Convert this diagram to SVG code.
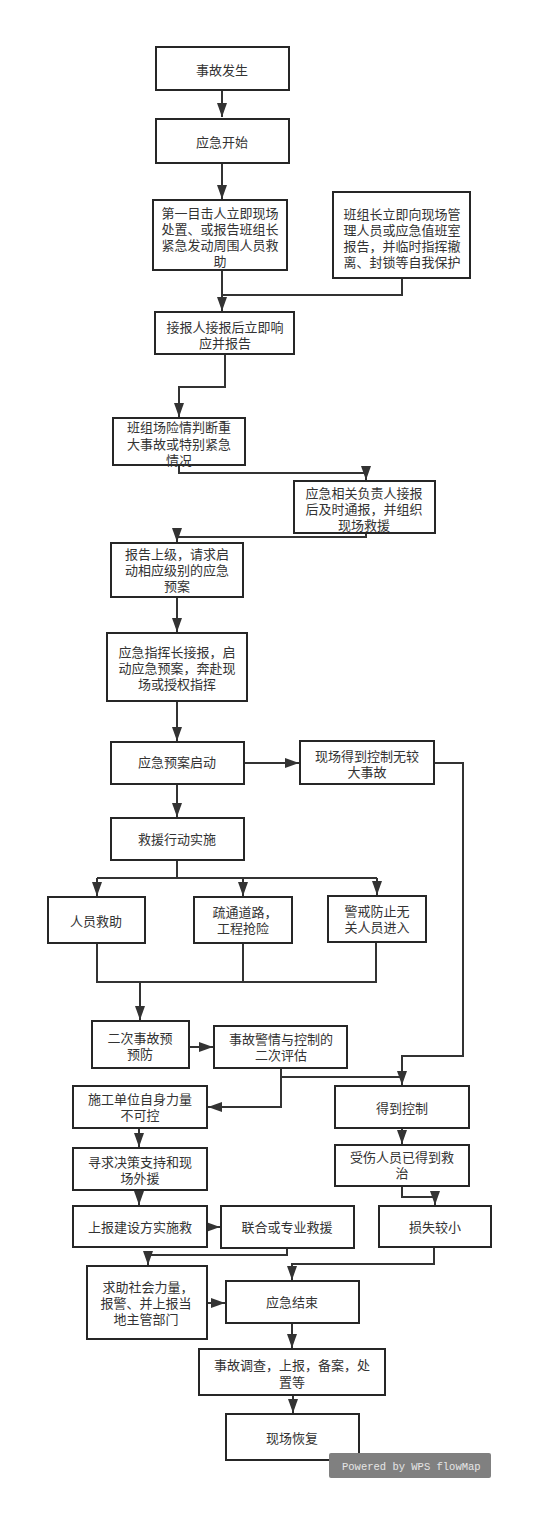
<svg xmlns="http://www.w3.org/2000/svg" width="552" height="1522" viewBox="0 0 552 1522">
<style>
.b{fill:#fff;stroke:#262626;stroke-width:2}
.t{font-family:"Noto Sans CJK SC","Noto Sans",sans-serif;font-size:13px;fill:#333;text-anchor:middle}
.c{fill:none;stroke:#333;stroke-width:2}
</style>
<defs>
<marker id="a" viewBox="0 0 14 10" markerWidth="14" markerHeight="10" refX="14" refY="5" orient="auto" markerUnits="userSpaceOnUse"><path d="M0,0 L14,5 L0,10 z" fill="#333"/></marker>
</defs>
<rect width="552" height="1522" fill="#fff"/>
<g id="connectors">
<path class="c" d="M222,90 V117" marker-end="url(#a)"/>
<path class="c" d="M222,163 V199" marker-end="url(#a)"/>
<path class="c" d="M222,270 V311" marker-end="url(#a)"/>
<path class="c" d="M402,278 V295 H222"/>
<path class="c" d="M225,354 V387 H179 V417" marker-end="url(#a)"/>
<path class="c" d="M179,465 V473 H366 V480" marker-end="url(#a)"/>
<path class="c" d="M366,533 V537 H177 V542" marker-end="url(#a)"/>
<path class="c" d="M177,597 V632" marker-end="url(#a)"/>
<path class="c" d="M177,701 V741" marker-end="url(#a)"/>
<path class="c" d="M244,763 H299" marker-end="url(#a)"/>
<path class="c" d="M434,763 H463 V1056 H402 V1085" marker-end="url(#a)"/>
<path class="c" d="M177,784 V817" marker-end="url(#a)"/>
<path class="c" d="M177,860 V878"/>
<path class="c" d="M97,878 H377"/>
<path class="c" d="M97,878 V896" marker-end="url(#a)"/>
<path class="c" d="M243,878 V896" marker-end="url(#a)"/>
<path class="c" d="M377,878 V895" marker-end="url(#a)"/>
<path class="c" d="M97,943 V982 H376 V942"/>
<path class="c" d="M243,943 V982"/>
<path class="c" d="M140,982 V1020" marker-end="url(#a)"/>
<path class="c" d="M189,1047 H213" marker-end="url(#a)"/>
<path class="c" d="M281,1068 V1107 H208" marker-end="url(#a)"/>
<path class="c" d="M281,1077 H402"/>
<path class="c" d="M139,1128 V1147" marker-end="url(#a)"/>
<path class="c" d="M139,1190 V1205" marker-end="url(#a)"/>
<path class="c" d="M206,1227 H220" marker-end="url(#a)"/>
<path class="c" d="M402,1128 V1144" marker-end="url(#a)"/>
<path class="c" d="M402,1186 V1197 H435 V1205" marker-end="url(#a)"/>
<path class="c" d="M287,1248 V1255 H148 V1265" marker-end="url(#a)"/>
<path class="c" d="M434,1247 V1264 H292 V1280" marker-end="url(#a)"/>
<path class="c" d="M207,1303 H225" marker-end="url(#a)"/>
<path class="c" d="M292,1323 V1348" marker-end="url(#a)"/>
<path class="c" d="M293,1395 V1413" marker-end="url(#a)"/>
</g>
<g id="n1"><rect class="b" x="156" y="47" width="133" height="43"/><text class="t" x="222" y="75">事故发生</text></g>
<g id="n2"><rect class="b" x="156" y="119" width="133" height="44"/><text class="t" x="222" y="147">应急开始</text></g>
<g id="n3"><rect class="b" x="153" y="200" width="134" height="70"/><text class="t"><tspan x="220" y="218">第一目击人立即现场</tspan><tspan x="220" y="234">处置、或报告班组长</tspan><tspan x="220" y="250">紧急发动周围人员救</tspan><tspan x="220" y="266">助</tspan></text></g>
<g id="n4"><rect class="b" x="333" y="192" width="137" height="86"/><text class="t"><tspan x="402" y="219">班组长立即向现场管</tspan><tspan x="402" y="235">理人员或应急值班室</tspan><tspan x="402" y="251">报告，并临时指挥撤</tspan><tspan x="402" y="267">离、封锁等自我保护</tspan></text></g>
<g id="n5"><rect class="b" x="155" y="312" width="139" height="42"/><text class="t"><tspan x="225" y="332">接报人接报后立即响</tspan><tspan x="225" y="348">应并报告</tspan></text></g>
<g id="n6"><rect class="b" x="113" y="418" width="132" height="47"/><text class="t"><tspan x="179" y="432">班组场险情判断重</tspan><tspan x="179" y="449">大事故或特别紧急</tspan><tspan x="179" y="465">情况</tspan></text></g>
<g id="n7"><rect class="b" x="294" y="481" width="141" height="52"/><text class="t"><tspan x="364" y="498">应急相关负责人接报</tspan><tspan x="364" y="514">后及时通报，并组织</tspan><tspan x="364" y="530">现场救援</tspan></text></g>
<g id="n8"><rect class="b" x="111" y="543" width="132" height="54"/><text class="t"><tspan x="177" y="559">报告上级，请求启</tspan><tspan x="177" y="575">动相应级别的应急</tspan><tspan x="177" y="591">预案</tspan></text></g>
<g id="n9"><rect class="b" x="107" y="633" width="140" height="68"/><text class="t"><tspan x="177" y="657">应急指挥长接报，启</tspan><tspan x="177" y="673">动应急预案，奔赴现</tspan><tspan x="177" y="689">场或授权指挥</tspan></text></g>
<g id="n10"><rect class="b" x="111" y="742" width="133" height="42"/><text class="t" x="177" y="767">应急预案启动</text></g>
<g id="n11"><rect class="b" x="300" y="741" width="134" height="43"/><text class="t"><tspan x="367" y="761">现场得到控制无较</tspan><tspan x="367" y="777">大事故</tspan></text></g>
<g id="n12"><rect class="b" x="111" y="818" width="133" height="42"/><text class="t" x="177" y="844">救援行动实施</text></g>
<g id="n13"><rect class="b" x="48" y="897" width="97" height="46"/><text class="t" x="96" y="926">人员救助</text></g>
<g id="n14"><rect class="b" x="194" y="897" width="98" height="46"/><text class="t"><tspan x="245" y="917">疏通道路，</tspan><tspan x="243" y="933">工程抢险</tspan></text></g>
<g id="n15"><rect class="b" x="328" y="896" width="98" height="46"/><text class="t"><tspan x="377" y="916">警戒防止无</tspan><tspan x="377" y="932">关人员进入</tspan></text></g>
<g id="n16"><rect class="b" x="92" y="1021" width="97" height="47"/><text class="t"><tspan x="140" y="1043">二次事故预</tspan><tspan x="140" y="1059">预防</tspan></text></g>
<g id="n17"><rect class="b" x="214" y="1026" width="133" height="42"/><text class="t"><tspan x="281" y="1044">事故警情与控制的</tspan><tspan x="281" y="1060">二次评估</tspan></text></g>
<g id="n18"><rect class="b" x="73" y="1086" width="134" height="42"/><text class="t"><tspan x="140" y="1104">施工单位自身力量</tspan><tspan x="140" y="1120">不可控</tspan></text></g>
<g id="n19"><rect class="b" x="335" y="1086" width="134" height="42"/><text class="t" x="402" y="1113">得到控制</text></g>
<g id="n20"><rect class="b" x="335" y="1145" width="134" height="41"/><text class="t"><tspan x="402" y="1162">受伤人员已得到救</tspan><tspan x="402" y="1178">治</tspan></text></g>
<g id="n21"><rect class="b" x="73" y="1148" width="134" height="42"/><text class="t"><tspan x="140" y="1167">寻求决策支持和现</tspan><tspan x="140" y="1183">场外援</tspan></text></g>
<g id="n22"><rect class="b" x="73" y="1206" width="134" height="41"/><text class="t" x="140" y="1232">上报建设方实施救</text></g>
<g id="n23"><rect class="b" x="221" y="1206" width="133" height="42"/><text class="t" x="287" y="1232">联合或专业救援</text></g>
<g id="n24"><rect class="b" x="379" y="1206" width="112" height="41"/><text class="t" x="435" y="1232">损失较小</text></g>
<g id="n25"><rect class="b" x="87" y="1266" width="120" height="73"/><text class="t"><tspan x="148" y="1292">求助社会力量，</tspan><tspan x="146" y="1308">报警、并上报当</tspan><tspan x="146" y="1324">地主管部门</tspan></text></g>
<g id="n26"><rect class="b" x="226" y="1281" width="133" height="42"/><text class="t" x="292" y="1307">应急结束</text></g>
<g id="n27"><rect class="b" x="199" y="1349" width="186" height="46"/><text class="t"><tspan x="292" y="1370">事故调查，上报，备案，处</tspan><tspan x="292" y="1387">置等</tspan></text></g>
<g id="n28"><rect class="b" x="226" y="1414" width="133" height="46"/><text class="t" x="292" y="1443">现场恢复</text></g>
<g id="watermark"><rect x="329" y="1453" width="162" height="25" rx="2" fill="#808080"/><text x="342" y="1470" font-family="Liberation Mono, monospace" font-size="10.5px" fill="#e6e6e6">Powered by WPS flowMap</text></g>
</svg>
